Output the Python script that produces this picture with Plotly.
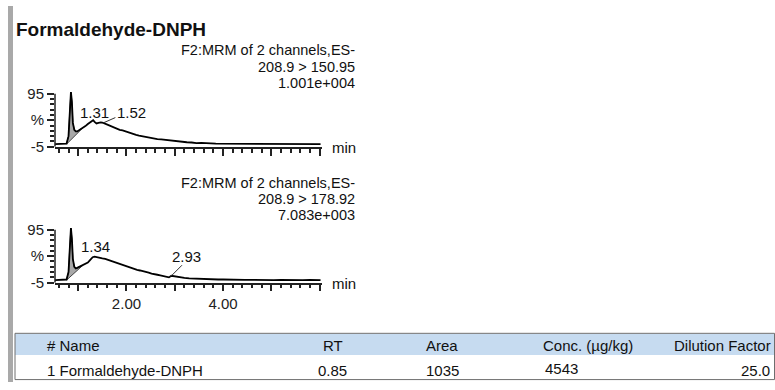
import plotly.graph_objects as go

# ---------------- data ----------------
title = "Formaldehyde-DNPH"
ch1_header = ["F2:MRM of 2 channels,ES-", "208.9 > 150.95", "1.001e+004"]
ch2_header = ["F2:MRM of 2 channels,ES-", "208.9 > 178.92", "7.083e+003"]

t1 = [0.52, 0.60, 0.70, 0.76, 0.80, 0.83, 0.85, 0.87, 0.89, 0.92, 0.95, 0.98, 1.02, 1.06, 1.10,
      1.15, 1.20, 1.25, 1.29, 1.31, 1.34, 1.38, 1.42, 1.47, 1.52, 1.57, 1.62, 1.68, 1.74, 1.80,
      1.86, 1.92, 1.98, 2.04, 2.10, 2.15, 2.20, 2.26, 2.32, 2.40, 2.48, 2.56, 2.64, 2.72, 2.80,
      2.88, 2.96, 3.05, 3.15, 3.25, 3.35, 3.45, 3.55, 3.65, 3.75, 3.85, 3.95, 4.10, 4.25, 4.40,
      4.55, 4.70, 4.85, 5.00, 5.15, 5.30, 5.45, 5.60, 5.75, 5.90, 6.02]
i1 = [0, 0, 0.5, 1, 15, 70, 98, 80, 40, 27, 24, 24, 26, 28, 31,
      34, 38, 42, 44, 45, 42, 39, 40, 41, 40, 38, 37, 35, 32, 30,
      27, 26, 24, 22, 20, 18, 17.5, 16, 15, 13.5, 11.5, 11, 9.5, 9, 8,
      7, 6, 5, 4.5, 3.5, 3, 2, 2.5, 1.5, 1.5, 1, 1, 0.5, 1, 0.5,
      0.5, 0.5, 0, 0.5, 0, 0, 0.5, 0, 0.5, 0, 0]

t2 = [0.52, 0.60, 0.70, 0.76, 0.80, 0.83, 0.85, 0.87, 0.89, 0.92, 0.95, 0.98, 1.02, 1.06, 1.10,
      1.15, 1.20, 1.25, 1.30, 1.34, 1.38, 1.44, 1.50, 1.56, 1.62, 1.68, 1.74, 1.80, 1.86, 1.92,
      1.98, 2.04, 2.10, 2.16, 2.22, 2.28, 2.34, 2.40, 2.46, 2.52, 2.58, 2.64, 2.70, 2.76, 2.82,
      2.88, 2.93, 2.98, 3.05, 3.12, 3.20, 3.30, 3.40, 3.50, 3.60, 3.70, 3.80, 3.90, 4.00, 4.15,
      4.30, 4.45, 4.60, 4.75, 4.90, 5.05, 5.20, 5.35, 5.50, 5.65, 5.80, 5.95, 6.02]
i2 = [0, 0, 0.5, 1, 15, 70, 98, 78, 40, 25, 22, 23, 25, 27, 28,
      30, 33, 38, 43, 44, 43.5, 43, 41, 40, 38, 36, 34, 32, 30, 28,
      27, 25, 22, 21, 19, 18, 17, 15, 14, 12, 11.5, 10, 9, 8, 6.5,
      5, 8, 7, 6, 4.5, 4, 3, 2.5, 2, 2, 1.5, 1.5, 1, 1, 0.5,
      1, 0.5, 0.5, 0, 0.5, 0, 0.5, 0, 0.5, 0, 0.5, 0, 0]

# integrated peak window (start, end) in minutes
integ_start, integ_end = 0.76, 1.10

peak_labels_1 = ["1.31", "1.52"]
peak_labels_2 = ["1.34", "2.93"]

table_headers = ["# Name", "RT", "Area", "Conc. (µg/kg)", "Dilution Factor"]
table_row = ["1 Formaldehyde-DNPH", "0.85", "1035", "4543", "25.0"]

# ---------------- layout helpers ----------------
W, H = 775, 390
FONT = "Arial, Liberation Sans, sans-serif"
FS = 15
def px(x): return x / W
def py(y): return 1 - y / H

def ydom(bottom_px):
    top_px = bottom_px - 105 * 0.55
    return [py(bottom_px), py(top_px)]

XR = [0.52, 6.05]
XDOM = [px(55), px(322)]

fig = go.Figure()

def add_chart(t, inten, xa, ya):
    poly_x, poly_y = [], []
    for tt, v in zip(t, inten):
        if integ_start <= tt <= integ_end:
            poly_x.append(tt)
            poly_y.append(v)
    poly_x += [integ_start]
    poly_y += [0]
    fig.add_trace(go.Scatter(x=poly_x, y=poly_y, fill="toself", fillcolor="#a8a8a8",
                             line=dict(color="#444444", width=1), mode="lines",
                             xaxis=xa, yaxis=ya, hoverinfo="skip", showlegend=False))
    fig.add_trace(go.Scatter(x=t, y=inten, mode="lines", line=dict(color="black", width=1.8),
                             xaxis=xa, yaxis=ya, showlegend=False))

add_chart(t1, i1, "x", "y")
add_chart(t2, i2, "x2", "y2")

xcommon = dict(range=XR, domain=XDOM, showgrid=False, zeroline=False, showline=True,
               linecolor="#222", linewidth=1.5, ticks="outside", ticklen=7, tickwidth=1.5,
               tickcolor="#222", tickvals=[1, 2, 3, 4, 5, 6],
               minor=dict(tick0=0, dtick=0.2, ticklen=4, tickwidth=1.5, tickcolor="#222", ticks="outside"),
               tickfont=dict(family=FONT, size=FS, color="#222"), fixedrange=True)
ycommon = dict(range=[-5, 100], showgrid=False, zeroline=False, showline=False,
               ticks="outside", ticklen=7, tickwidth=1.5, tickcolor="#222",
               tickvals=[-5, 45, 95], ticktext=["-5", "%", "95"],
               minor=dict(tickvals=[5, 15, 25, 35, 55, 65, 75, 85], ticklen=4, tickwidth=1.5,
                          tickcolor="#222", ticks="outside"),
               tickfont=dict(family=FONT, size=FS, color="#222"), fixedrange=True)

fig.update_layout(
    width=W, height=H, margin=dict(l=0, r=0, t=0, b=0),
    paper_bgcolor="white", plot_bgcolor="white", showlegend=False,
    xaxis=dict(**xcommon, anchor="y", ticktext=["", "", "", "", "", ""]),
    yaxis=dict(**ycommon, domain=ydom(146), anchor="x"),
    xaxis2=dict(**xcommon, anchor="y2", ticktext=["", "2.00", "", "4.00", "", ""]),
    yaxis2=dict(**ycommon, domain=ydom(287), anchor="x2"),
)

shapes = []
for ya, xd in (("y", "x domain"), ("y2", "x2 domain")):
    shapes.append(dict(type="line", xref=xd, yref=ya, x0=0, x1=0, y0=-5, y1=95,
                       line=dict(color="#222", width=1.5)))
shapes.append(dict(type="line", xref="x", yref="y", x0=1.52, y0=40, x1=1.77, y1=50,
                   line=dict(color="#333", width=1)))
shapes.append(dict(type="line", xref="x2", yref="y2", x0=2.92, y0=7, x1=3.15, y1=28,
                   line=dict(color="#333", width=1)))
shapes.append(dict(type="rect", xref="paper", yref="paper", x0=px(8), x1=px(13), y0=0, y1=1,
                   fillcolor="#a9a9a9", line=dict(width=0), layer="below"))
shapes.append(dict(type="rect", xref="paper", yref="paper", x0=px(15), x1=px(775), y0=py(362), y1=py(340),
                   fillcolor="#c6dbf0", line=dict(width=0), layer="below"))
shapes.append(dict(type="rect", xref="paper", yref="paper", x0=px(15), x1=px(774.5), y0=py(387.5), y1=py(339.5),
                   fillcolor="rgba(0,0,0,0)", line=dict(color="#6e6e6e", width=1)))
fig.update_layout(shapes=shapes)

ann = []
def text(x, y, s, anchor="left", size=FS, bold=False, xref="paper", yref="paper", color="#111"):
    if xref == "paper":
        x = px(x)
    if yref == "paper":
        y = py(y)
    ann.append(dict(x=x, y=y, xref=xref, yref=yref, text=("<b>%s</b>" % s) if bold else s,
                    showarrow=False, xanchor=anchor, yanchor="middle",
                    font=dict(family=FONT, size=size, color=color)))

text(14, 24, title, size=19, bold=True)
for k, s in enumerate(ch1_header):
    text(357, 46 + 17 * k, s, anchor="right", size=14.5)
for k, s in enumerate(ch2_header):
    text(357, 184 + 16.5 * k, s, anchor="right", size=14.5)
text(330, 147, "min")
text(330, 288, "min")

text(1.33, 60, peak_labels_1[0], anchor="center", xref="x", yref="y")
text(1.77, 59, peak_labels_1[1], anchor="left", xref="x", yref="y")
text(1.35, 63, peak_labels_2[0], anchor="center", xref="x2", yref="y2")
text(3.24, 45, peak_labels_2[1], anchor="center", xref="x2", yref="y2")

# table text
text(45, 352, table_headers[0])
text(345, 352, table_headers[1], anchor="right")
text(460, 352, table_headers[2], anchor="right")
text(541, 352, table_headers[3])
text(773, 352, table_headers[4], anchor="right")
text(45, 378, table_row[0])
text(349, 378, table_row[1], anchor="right")
text(461, 378, table_row[2], anchor="right")
text(543, 376, table_row[3])
text(772, 378, table_row[4], anchor="right")

fig.update_layout(annotations=ann)
fig.write_html("out.html", config={"displayModeBar": False},
               post_script="document.body.style.margin='0';")
